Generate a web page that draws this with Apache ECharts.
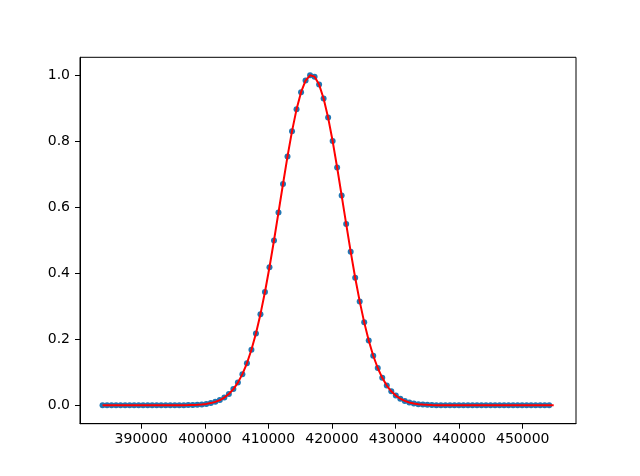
<!DOCTYPE html>
<html>
<head>
<meta charset="utf-8">
<script src="https://cdn.jsdelivr.net/npm/echarts@6/dist/echarts.min.js"></script>
<style>html,body{margin:0;padding:0;background:#fff}#c{width:640px;height:476px}</style>
</head>
<body>
<div id="c"></div>
<script>
const xVals = [383903,384613,385322,386032,386742,387452,388161,388871,389581,390290,
391000,391710,392419,393129,393839,394549,395258,395968,396678,397387,
398097,398807,399516,400226,400936,401646,402355,403065,403775,404484,
405194,405904,406613,407323,408033,408743,409452,410162,410872,411581,
412291,413001,413710,414420,415130,415840,416549,417259,417969,418678,
419388,420098,420807,421517,422227,422937,423646,424356,425066,425775,
426485,427195,427904,428614,429324,430034,430743,431453,432163,432872,
433582,434292,435001,435711,436421,437131,437840,438550,439260,439969,
440679,441389,442098,442808,443518,444228,444937,445647,446357,447066,
447776,448486,449195,449905,450615,451325,452034,452744,453454,454163];
const yVals = [0,0,0,0,0,0,0,0,0,0,
0,0,0,0,0,0,0,0.0002,0.0003,0.0005,
0.0009,0.0016,0.0026,0.0042,0.0066,0.0103,0.0157,0.0234,0.0341,0.0489,
0.0686,0.0943,0.1272,0.1680,0.2174,0.2759,0.3430,0.4180,0.4990,0.5840,
0.6700,0.7535,0.8300,0.8960,0.9480,0.9830,0.9990,0.9950,0.9710,0.9290,
0.8710,0.8000,0.7200,0.6350,0.5490,0.4650,0.3860,0.3145,0.2510,0.1960,
0.1500,0.1128,0.0830,0.0598,0.0423,0.0293,0.0199,0.0132,0.0086,0.0055,
0.0034,0.0021,0.0013,0.0008,0.0004,0.0002,0,0,0,0,
0,0,0,0,0,0,0,0,0,0,
0,0,0,0,0,0,0,0,0,0];
const fitX = xVals.concat([454873]);
const fitY = yVals.concat([0]);
const xTicks = [390000,400000,410000,420000,430000,440000,450000];
const yTicks = [0,0.2,0.4,0.6,0.8,1.0];

const chart = echarts.init(document.getElementById('c'), null, {renderer:'canvas'});
const font = {color:'#000', fontFamily:'DejaVu Sans', fontSize:14};
chart.setOption({
  animation:false,
  backgroundColor:'#fff',
  grid:{left:80, right:64, top:57.3, bottom:52.3, show:true, borderColor:'#000', borderWidth:1, backgroundColor:'transparent'},
  xAxis:{type:'value', min:380357, max:458381,
    axisLine:{show:true, onZero:false, lineStyle:{color:'#000', width:1}},
    axisTick:{show:true, customValues:xTicks, length:5, lineStyle:{color:'#000', width:1}},
    axisLabel:Object.assign({customValues:xTicks, margin:9, formatter:v=>String(v)}, font),
    splitLine:{show:false}},
  yAxis:{type:'value', min:-0.0558, max:1.0536,
    axisLine:{show:true, onZero:false, lineStyle:{color:'#000', width:1}},
    axisTick:{show:true, customValues:yTicks, length:5, lineStyle:{color:'#000', width:1}},
    axisLabel:Object.assign({customValues:yTicks, margin:10, formatter:v=>v.toFixed(1)}, font),
    splitLine:{show:false}},
  series:[
    {type:'scatter', data:xVals.map((x,i)=>[x,yVals[i]]), symbolSize:6,
     itemStyle:{color:'#1f77b4', opacity:1}},
    {type:'line', data:fitX.map((x,i)=>[x,fitY[i]]), showSymbol:false, symbol:'none',
     lineStyle:{color:'#ff0000', width:2}, smooth:false}
  ]
});
</script>
</body>
</html>
